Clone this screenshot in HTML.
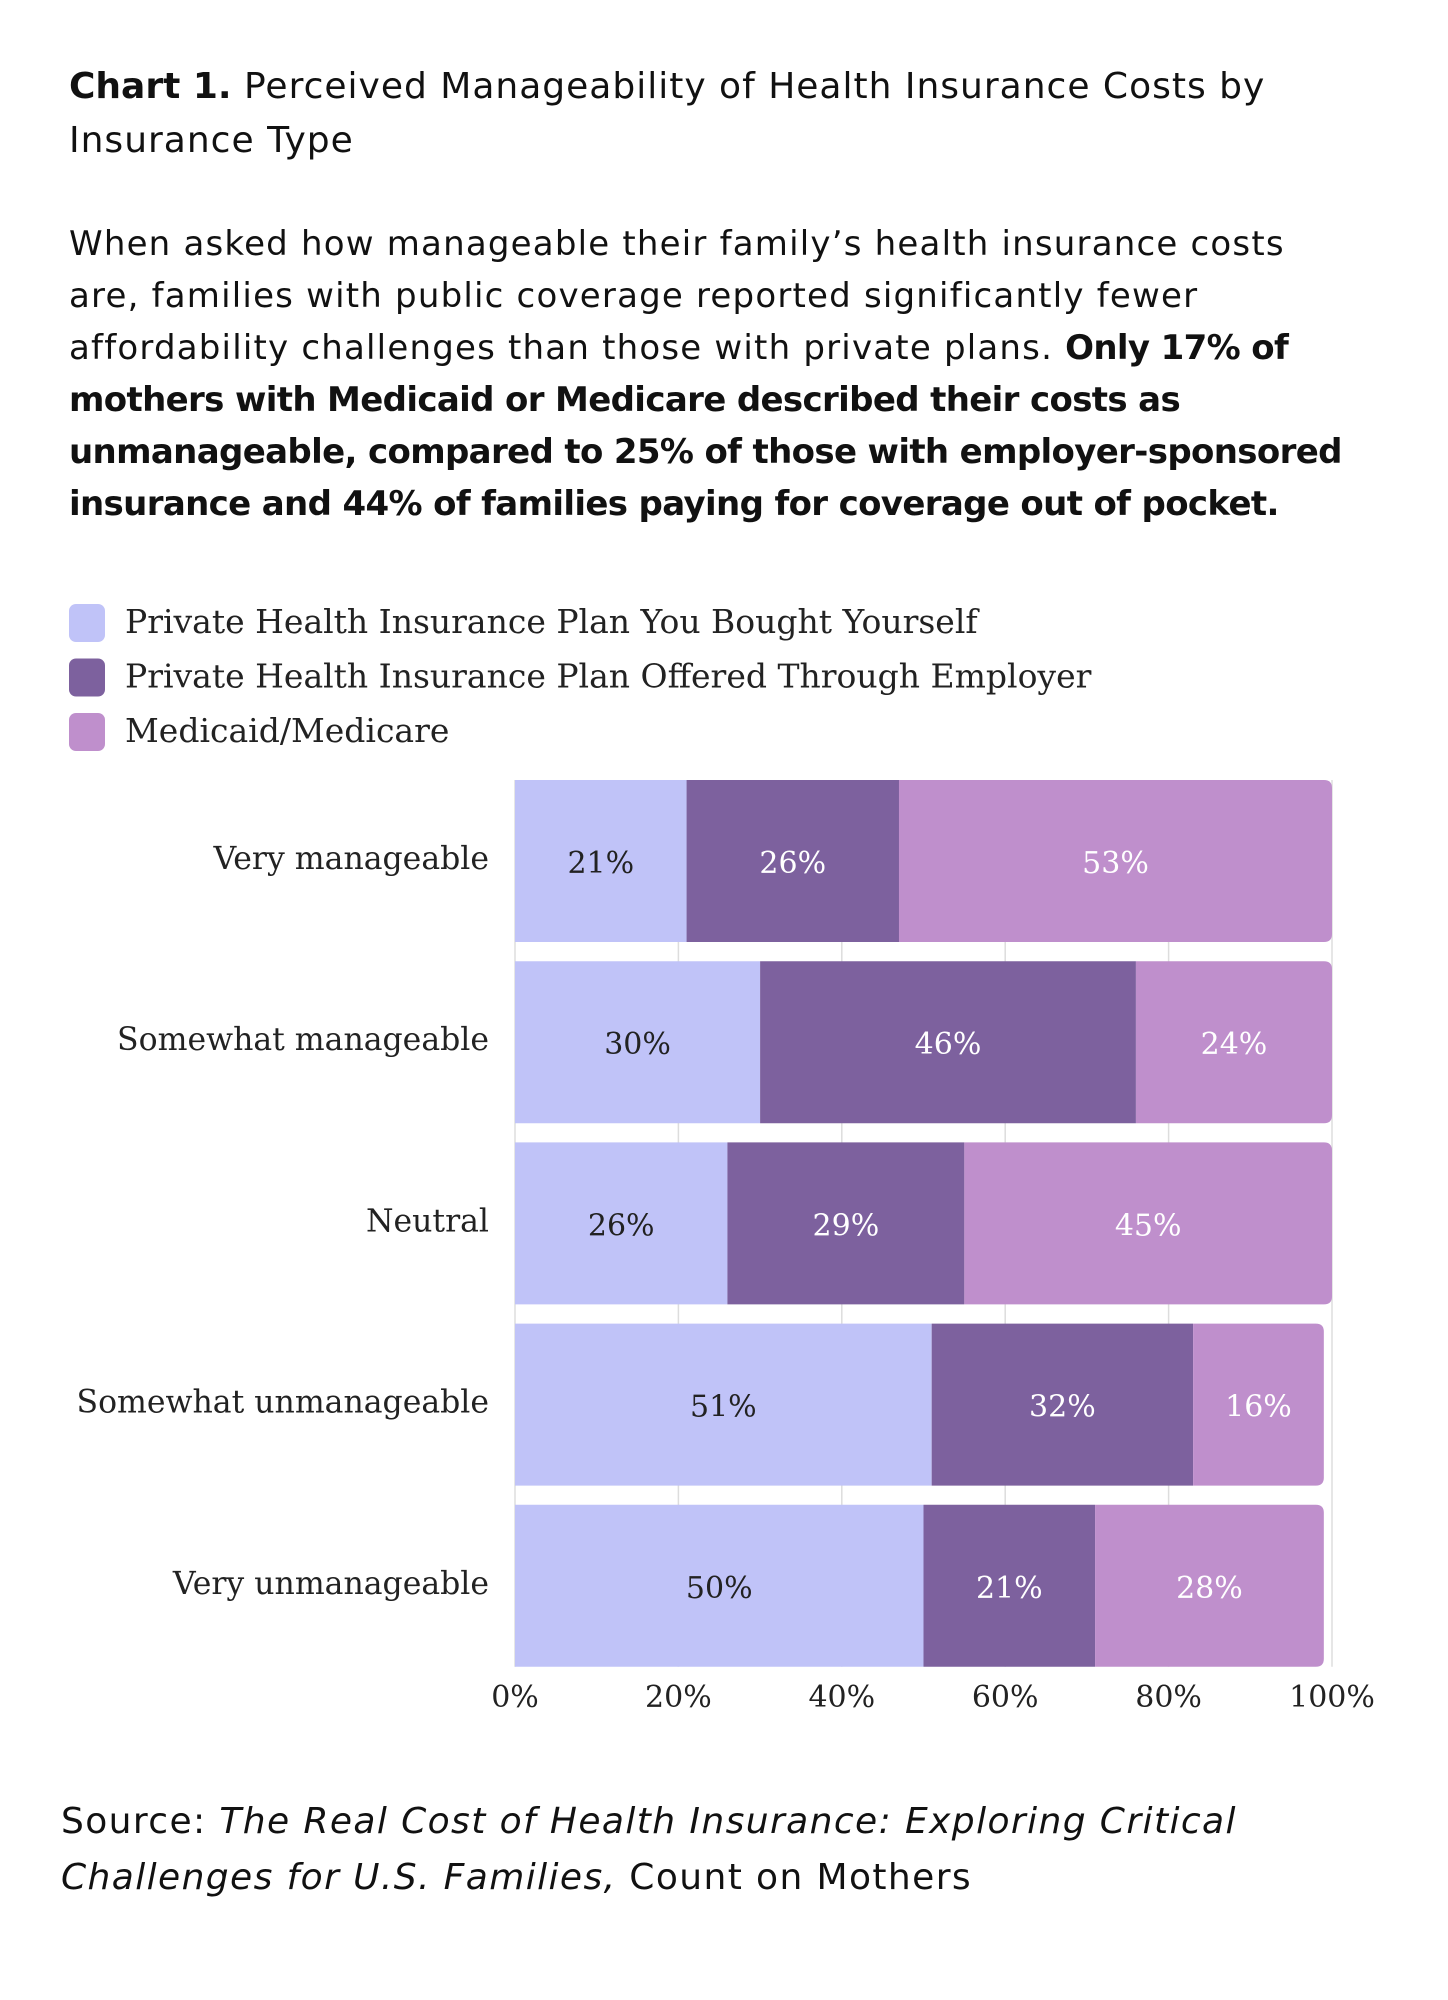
<!DOCTYPE html>
<html><head><meta charset="utf-8">
<style>
body{margin:0;background:#fff;width:1448px;height:2000px;position:relative;overflow:hidden;font-family:"DejaVu Sans","Liberation Sans",sans-serif;color:#111}
.t{position:absolute;left:69px;top:60px;white-space:nowrap;font-size:36px;line-height:54px;letter-spacing:1px}
.t b{letter-spacing:0}
.d{position:absolute;left:69px;top:218px;white-space:nowrap;font-size:34px;line-height:52px;letter-spacing:1.2px}
.d b{letter-spacing:-0.65px}
.s{position:absolute;left:61px;top:1794px;white-space:nowrap;font-size:36px;line-height:56px;letter-spacing:1.4px}
svg{position:absolute;left:0;top:0}
</style></head><body>
<div class="t"><b>Chart 1.</b> Perceived Manageability of Health Insurance Costs by<br>Insurance Type</div>
<div class="d">When asked how manageable their family’s health insurance costs<br>are, families with public coverage reported significantly fewer<br>affordability challenges than those with private plans. <b>Only 17% of<br>mothers with Medicaid or Medicare described their costs as<br>unmanageable, compared to 25% of those with employer-sponsored<br>insurance and 44% of families paying for coverage out of pocket.</b></div>
<svg id="c" width="1448" height="2000"></svg>
<div class="s">Source: <i>The Real Cost of Health Insurance: Exploring Critical<br>Challenges for U.S. Families,</i> Count on Mothers</div>
<script>
const categories=["Very manageable","Somewhat manageable","Neutral","Somewhat unmanageable","Very unmanageable"];
const seriesNames=["Private Health Insurance Plan You Bought Yourself","Private Health Insurance Plan Offered Through Employer","Medicaid/Medicare"];
const boughtYourself=[21,30,26,51,50];
const employer=[26,46,29,32,21];
const medicaid=[53,24,45,16,28];
const ticks=[0,20,40,60,80,100];
const series=[boughtYourself,employer,medicaid];
const colors=["#c0c3f8","#7d619e","#bf8fcc"];
const textCol=["#222","#fff","#fff"];
const NS="http://www.w3.org/2000/svg";
const svg=document.getElementById('c');
const SERIF='"DejaVu Serif","Liberation Serif",serif';
const X0=515,X1=1332,Y0=780,STEP=181.2,BH=162;
const x=v=>X0+(X1-X0)*v/100;
const y=i=>Y0+i*STEP;
function mk(t,a){const e=document.createElementNS(NS,t);for(const k in a)e.setAttribute(k,a[k]);svg.appendChild(e);return e;}
seriesNames.forEach((n,i)=>{
 const r=mk('rect',{x:69,y:604+i*54.5,width:36,height:38,rx:7,fill:colors[i]});
 
 
 const t=mk('text',{x:125,y:633+i*54.5,'font-size':33,'font-family':SERIF,fill:'#222'});
 t.textContent=n;
 
 
});
ticks.forEach(t=>{
 const l=mk('line',{x1:x(t),x2:x(t),y1:Y0,y2:y(4)+BH,stroke:'#ddd','stroke-width':1.5});
 
 
 const tx=mk('text',{x:x(t),y:1707,'font-size':30,'text-anchor':'middle','font-family':SERIF,fill:'#222'});
 tx.textContent=t+'%';
 
 
});
categories.forEach((c,i)=>{
 const lb=mk('text',{x:489,y:y(i)+BH/2+8,'font-size':31.5,'text-anchor':'end','font-family':SERIF,fill:'#222'});
 lb.textContent=c;
 
 
 let acc=0;
 series.forEach((s,j)=>{
  const v=s[i];const xa=x(acc),xb=x(acc+v);
  let d;
  if(j===2){const r=8;d=`M${xa},${y(i)}H${xb-r}Q${xb},${y(i)} ${xb},${y(i)+r}V${y(i)+BH-r}Q${xb},${y(i)+BH} ${xb-r},${y(i)+BH}H${xa}Z`;}
  else d=`M${xa},${y(i)}H${xb}V${y(i)+BH}H${xa}Z`;
  const p=mk('path',{d:d,fill:colors[j]});
  
  
  const t=mk('text',{x:(xa+xb)/2,y:y(i)+BH/2+12,'font-size':30,'text-anchor':'middle','font-family':SERIF,fill:textCol[j]});
  t.textContent=v+'%';
  
  
  acc+=v;
 });
});
</script>
</body></html>
